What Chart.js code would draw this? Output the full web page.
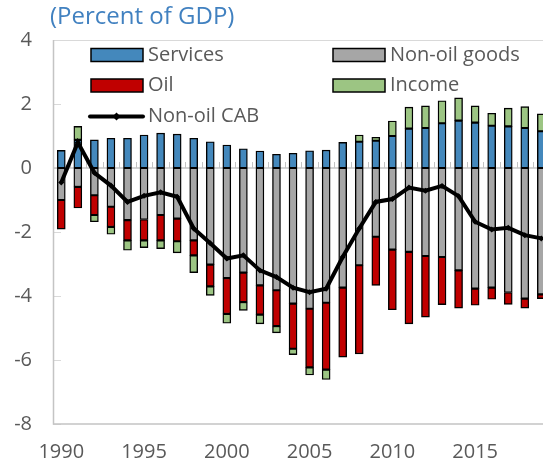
<!DOCTYPE html>
<html>
<head>
<meta charset="utf-8">
<script src="https://cdn.jsdelivr.net/npm/chart.js@4.4.0/dist/chart.umd.min.js"></script>
<style>
html, body { margin: 0; padding: 0; background: #fff; overflow: hidden; }
</style>
</head>
<body>
<canvas id="myChart" width="547" height="466"></canvas>
<script>
var years = [1990, 1991, 1992, 1993, 1994, 1995, 1996, 1997, 1998, 1999,
             2000, 2001, 2002, 2003, 2004, 2005, 2006, 2007, 2008, 2009,
             2010, 2011, 2012, 2013, 2014, 2015, 2016, 2017, 2018, 2019];
var tickYears = [1990, 1995, 2000, 2005, 2010, 2015];

var services = [0.55, 0.88, 0.88, 0.93, 0.93, 1.03, 1.09, 1.06, 0.93, 0.82,
                0.72, 0.60, 0.53, 0.43, 0.46, 0.54, 0.56, 0.80, 0.82, 0.85,
                1.00, 1.23, 1.25, 1.40, 1.48, 1.42, 1.32, 1.30, 1.25, 1.15];
var nonOilGoods = [-1.00, -0.59, -0.85, -1.21, -1.63, -1.61, -1.47, -1.58, -2.26, -3.02,
                   -3.44, -3.27, -3.67, -3.82, -4.24, -4.40, -4.21, -3.74, -3.04, -2.15,
                   -2.55, -2.62, -2.75, -2.78, -3.20, -3.77, -3.74, -3.89, -4.08, -3.95];
var oil = [-0.91, -0.66, -0.62, -0.63, -0.63, -0.65, -0.79, -0.71, -0.47, -0.68,
           -1.12, -0.92, -0.91, -1.12, -1.41, -1.83, -2.09, -2.17, -2.77, -1.52,
           -1.88, -2.25, -1.91, -1.49, -1.18, -0.52, -0.36, -0.37, -0.30, -0.13];
var income = [null, 0.42, -0.21, -0.23, -0.31, -0.23, -0.26, -0.36, -0.54, -0.28,
              -0.29, -0.26, -0.29, -0.21, -0.18, -0.24, -0.31, null, 0.21, 0.11,
              0.47, 0.67, 0.69, 0.70, 0.71, 0.52, 0.39, 0.57, 0.67, 0.54];
var nonOilCab = [-0.45, 0.80, -0.15, -0.55, -1.06, -0.87, -0.76, -0.90, -1.89, -2.35,
                 -2.83, -2.73, -3.20, -3.41, -3.74, -3.88, -3.77, -2.78, -1.89, -1.06,
                 -0.97, -0.61, -0.71, -0.56, -0.88, -1.68, -1.92, -1.87, -2.10, -2.20];

function pts(values) {
    return years.map(function (yr, i) { return { x: yr, y: values[i] }; });
}

function barSet(label, values, color) {
    return {
        label: label,
        data: pts(values),
        backgroundColor: color,
        borderColor: '#000',
        borderWidth: 1.4,
        borderSkipped: false,
        barThickness: 8,
        order: 1
    };
}

var textGrey = '#595959';
var font = '"Open Sans", "Noto Sans", sans-serif';

var framePlugin = {
    id: 'frame',
    beforeDatasetsDraw: function (chart) {
        var a = chart.chartArea, ctx = chart.ctx;
        var xs = chart.scales.x, ys = chart.scales.y;
        var y0 = ys.getPixelForValue(0);
        ctx.save();
        ctx.lineWidth = 1;
        ctx.strokeStyle = '#D9D9D9';
        ctx.beginPath();
        ctx.moveTo(a.left, a.top + 0.5);
        ctx.lineTo(a.right, a.top + 0.5);
        ctx.stroke();
        // inward ticks on the value axis
        ys.ticks.forEach(function (t) {
            var yp = Math.round(ys.getPixelForValue(t.value)) + 0.5;
            ctx.beginPath();
            ctx.moveTo(a.left, yp);
            ctx.lineTo(a.left + 8, yp);
            ctx.stroke();
        });
        ctx.strokeStyle = '#C4C4C4';
        ctx.lineWidth = 1.5;
        ctx.beginPath();
        ctx.moveTo(a.left, y0);
        ctx.lineTo(a.right, y0);
        ctx.stroke();
        // small ticks between categories on the zero line
        ctx.lineWidth = 1;
        for (var i = 1; i < years.length; i++) {
            var xp = Math.round(xs.getPixelForValue(years[i] - 0.5)) + 0.5;
            ctx.beginPath();
            ctx.moveTo(xp, y0);
            ctx.lineTo(xp, y0 - 6);
            ctx.stroke();
        }
        ctx.lineWidth = 1.5;
        ctx.beginPath();
        ctx.moveTo(a.left + 0.5, a.top);
        ctx.lineTo(a.left + 0.5, a.bottom);
        ctx.lineTo(a.right, a.bottom);
        ctx.stroke();
        ctx.restore();
    }
};

var legendPlugin = {
    id: 'boxLegend',
    afterDraw: function (chart) {
        var ctx = chart.ctx, ds = chart.data.datasets;
        var spots = [[91, 55], [333, 55], [91, 85.5], [333, 85.5]];
        ctx.save();
        ctx.font = '20px ' + font;
        ctx.textBaseline = 'middle';
        ctx.fillStyle = textGrey;
        for (var i = 0; i < 4; i++) {
            var p = spots[i];
            ctx.fillStyle = ds[i].backgroundColor;
            ctx.fillRect(p[0], p[1] - 6.5, 52, 13);
            ctx.strokeStyle = '#000';
            ctx.lineWidth = 1.5;
            ctx.strokeRect(p[0], p[1] - 6.5, 52, 13);
            ctx.fillStyle = textGrey;
            ctx.fillText(ds[i].label, p[0] + 57, p[1]);
        }
        var ly = 116.5;
        ctx.strokeStyle = '#000';
        ctx.lineWidth = 4;
        ctx.lineCap = 'round';
        ctx.beginPath();
        ctx.moveTo(90, ly);
        ctx.lineTo(143, ly);
        ctx.stroke();
        ctx.fillStyle = '#000';
        ctx.beginPath();
        ctx.moveTo(116.5, ly - 4);
        ctx.lineTo(120.5, ly);
        ctx.lineTo(116.5, ly + 4);
        ctx.lineTo(112.5, ly);
        ctx.closePath();
        ctx.fill();
        ctx.fillStyle = textGrey;
        ctx.fillText(ds[4].label, 148, ly);
        // title
        ctx.font = '24px ' + font;
        ctx.fillStyle = '#4181C0';
        ctx.fillText('(Percent of GDP)', 50, 17);
        ctx.restore();
    }
};

var ctx = document.getElementById('myChart').getContext('2d');

var myChart = new Chart(ctx, {
    type: 'bar',
    data: {
        datasets: [
            barSet('Services', services, '#4488BC'),
            barSet('Non-oil goods', nonOilGoods, '#A6A6A6'),
            barSet('Oil', oil, '#C00000'),
            barSet('Income', income, '#9CC583'),
            {
                type: 'line',
                label: 'Non-oil CAB',
                data: pts(nonOilCab),
                borderColor: '#000',
                borderWidth: 4,
                pointStyle: 'rectRot',
                pointRadius: 3,
                pointBorderWidth: 0,
                pointBackgroundColor: '#000',
                tension: 0,
                stack: 'cab',
                order: 0
            }
        ]
    },
    options: {
        responsive: false,
        animation: false,
        layout: { padding: { top: 40, left: 0, right: 0, bottom: 0 } },
        plugins: {
            legend: { display: false },
            tooltip: { enabled: false }
        },
        scales: {
            x: {
                type: 'linear',
                stacked: true,
                offset: false,
                min: 1989.5,
                max: 2019.1,
                grid: { display: false, drawTicks: false },
                border: { display: false },
                ticks: {
                    font: { family: font, size: 20 },
                    color: textGrey,
                    padding: 16,
                    maxRotation: 0,
                    autoSkip: false,
                    callback: function (v) { return String(v); }
                },
                afterBuildTicks: function (axis) {
                    axis.ticks = tickYears.map(function (v) { return { value: v }; });
                },
                afterFit: function (s) { s.height = 42; }
            },
            y: {
                stacked: true,
                min: -8,
                max: 4,
                grid: { display: false, drawTicks: false },
                border: { display: false },
                ticks: {
                    stepSize: 2,
                    font: { family: font, size: 20 },
                    color: textGrey,
                    padding: 21
                },
                afterFit: function (s) { s.width = 53; }
            }
        }
    },
    plugins: [framePlugin, legendPlugin]
});
</script>
</body>
</html>
